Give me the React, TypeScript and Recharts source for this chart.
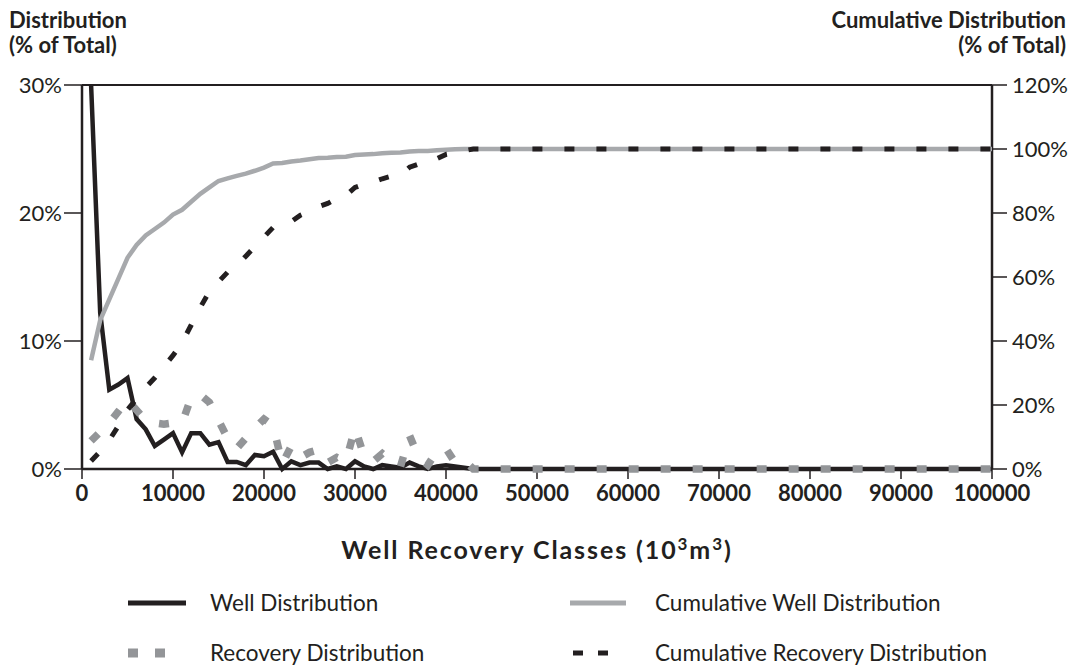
import { LineChart, Line, XAxis, YAxis, Legend, ReferenceLine } from "recharts";

const W = 1074;
const H = 670;
const INK = "#231f20";
const GRAY_LIGHT = "#a7a9ac";
const GRAY_DARK = "#939598";
const FONT = "Lato, sans-serif";

// well recovery classes (10^3 m^3)
const recoveryClasses = [
  1000, 2000, 3000, 4000, 5000, 6000, 7000, 8000, 9000, 10000,
  11000, 12000, 13000, 14000, 15000, 16000, 17000, 18000, 19000, 20000,
  21000, 22000, 23000, 24000, 25000, 26000, 27000, 28000, 29000, 30000,
  31000, 32000, 33000, 34000, 35000, 36000, 37000, 38000, 39000, 40000,
  41000, 42000, 43000, 100000,
];

// % of total (left axis); first class runs off the top of the chart
const wellDistribution = [
  30, 12.2, 6.2, 6.6, 7.1, 3.9, 3.1, 1.8, 2.3, 2.8,
  1.3, 2.8, 2.8, 1.9, 2.1, 0.55, 0.55, 0.3, 1.1, 1.0,
  1.35, 0, 0.6, 0.3, 0.5, 0.5, 0, 0.2, 0, 0.6,
  0.2, 0, 0.3, 0.2, 0.1, 0.5, 0.2, 0, 0.2, 0.3,
  0.2, 0.1, 0, 0,
];

const recoveryDistribution = [
  2.2, 2.9, 3.6, 4.5, 5.4, 4.6, 3.8, 3.6, 3.5, 3.6,
  3.6, 5.6, 5.8, 5.2, 3.8, 2.4, 1.6, 2.4, 3.2, 3.9,
  3.4, 0.4, 1.8, 0.9, 1.3, 1.5, 0.5, 0.9, 0.6, 3.2,
  1.0, 0.6, 1.2, 0.6, 0.2, 2.6, 0.9, 0.3, 1.4, 1.6,
  0.5, 0.7, 0, 0,
];

// cumulative % of total (right axis)
const cumulativeWell = [
  34, 46.5, 53, 59.5, 66, 70, 73, 75, 77, 79.5,
  81, 83.5, 86, 88, 90, 90.8, 91.6, 92.3, 93.2, 94.2,
  95.5, 95.6, 96.1, 96.4, 96.8, 97.2, 97.3, 97.5, 97.6, 98.1,
  98.3, 98.4, 98.7, 98.8, 98.9, 99.2, 99.4, 99.4, 99.6, 99.8,
  99.9, 100, 100, 100,
];

const cumulativeRecovery = [
  2.5, 5.5, 9, 13.5, 18.5, 22, 25.5, 28.5, 32, 35.5,
  39.5, 45, 50.5, 55.5, 58.5, 61.5, 63.5, 66.5, 69.5, 72.5,
  75.5, 75.8, 77.3, 79.3, 80.5, 82, 83, 84.5, 85.5, 88,
  89, 89.7, 90.7, 91.5, 91.8, 94.3, 95.3, 95.6, 97, 98.3,
  98.8, 99.5, 100, 100,
];

const xTicks = [0, 10000, 20000, 30000, 40000, 50000, 60000, 70000, 80000, 90000, 100000];
const leftTicks = [0, 10, 20, 30];
const rightTicks = [0, 20, 40, 60, 80, 100, 120];

const rows = recoveryClasses.map((x, i) => ({
  x,
  well: wellDistribution[i],
  cumWell: cumulativeWell[i],
  recovery: recoveryDistribution[i],
  cumRecovery: cumulativeRecovery[i],
}));

const legendItems = [
  { label: "Well Distribution", color: INK, width: 5, dash: undefined, len: 58, x: 128, y: 23 },
  { label: "Cumulative Well Distribution", color: GRAY_LIGHT, width: 5, dash: undefined, len: 56, x: 570, y: 23 },
  { label: "Recovery Distribution", color: GRAY_DARK, width: 9, dash: "10 17", len: 37, x: 128, y: 73 },
  { label: "Cumulative Recovery Distribution", color: INK, width: 5, dash: "10 15", len: 35, x: 573, y: 73 },
];

const renderLegend = () => (
  <div style={{ position: "relative", width: W, height: 90 }}>
    {legendItems.map((it) => (
      <div key={it.label}>
        <svg
          width={it.len}
          height={12}
          style={{ position: "absolute", left: it.x, top: it.y - 6 }}
        >
          <line
            x1={0}
            y1={6}
            x2={it.len}
            y2={6}
            stroke={it.color}
            strokeWidth={it.width}
            strokeDasharray={it.dash}
          />
        </svg>
        <span
          style={{
            position: "absolute",
            left: it.x < 300 ? 210 : 655,
            top: it.y - 14,
            fontFamily: FONT,
            fontSize: 22.5,
            lineHeight: "28px",
            color: INK,
            whiteSpace: "nowrap",
          }}
        >
          {it.label}
        </span>
      </div>
    ))}
  </div>
);

const XTitle = (props: any) => {
  const vb = props.viewBox;
  const cx = vb.x + vb.width / 2;
  return (
    <text
      x={cx}
      y={559}
      textAnchor="middle"
      fill={INK}
      fontFamily={FONT}
      fontWeight={700}
      fontSize={25}
      letterSpacing={1.9}
    >
      Well Recovery Classes (10
      <tspan dy={-9} fontSize={17}>3</tspan>
      <tspan dy={9}>m</tspan>
      <tspan dy={-9} fontSize={17}>3</tspan>
      <tspan dy={9}>)</tspan>
    </text>
  );
};

const titleStyle: React.CSSProperties = {
  position: "absolute",
  top: 7,
  fontFamily: FONT,
  fontWeight: 700,
  fontSize: 22,
  lineHeight: "25px",
  color: INK,
};

export default function App() {
  return (
    <div style={{ position: "absolute", left: 0, top: 0, width: W, height: H, background: "#fff" }}>
      <div style={{ ...titleStyle, left: 9 }}>
        Distribution
        <br />
        (% of Total)
      </div>
      <div style={{ ...titleStyle, right: 8, textAlign: "right" }}>
        Cumulative Distribution
        <br />
        (% of Total)
      </div>
      <LineChart width={W} height={H} data={rows} margin={{ top: 85, right: 0, bottom: 141, left: 0 }}>
        <XAxis
          dataKey="x"
          type="number"
          domain={[0, 100000]}
          ticks={xTicks}
          height={60}
          tickSize={10}
          tickMargin={6}
          axisLine={{ stroke: INK, strokeWidth: 2.5 }}
          tickLine={{ stroke: INK, strokeWidth: 1.5 }}
          tick={{ fill: INK, fontSize: 22, fontWeight: 700, fontFamily: FONT }}
          tickFormatter={(v: number) => String(v)}
          label={{ content: XTitle }}
        />
        <YAxis
          yAxisId="left"
          domain={[0, 30]}
          ticks={leftTicks}
          width={82}
          tickSize={18}
          tickMargin={2}
          axisLine={{ stroke: INK, strokeWidth: 2.5 }}
          tickLine={{ stroke: INK, strokeWidth: 1.5 }}
          tick={{ fill: INK, fontSize: 22, fontFamily: FONT }}
          tickFormatter={(v: number) => `${v}%`}
        />
        <YAxis
          yAxisId="right"
          orientation="right"
          domain={[0, 120]}
          ticks={rightTicks}
          width={82}
          tickSize={15}
          tickMargin={5}
          axisLine={{ stroke: INK, strokeWidth: 2.5 }}
          tickLine={{ stroke: INK, strokeWidth: 1.5 }}
          tick={{ fill: INK, fontSize: 22, fontFamily: FONT }}
          tickFormatter={(v: number) => `${v}%`}
        />
        <ReferenceLine yAxisId="left" y={30} stroke={INK} strokeWidth={2} />
        {/* lines sit above the axis lines, as in the original */}
        <Line
          yAxisId="left"
          dataKey="well"
          stroke={INK}
          strokeWidth={4.5}
          dot={false}
          activeDot={false}
          isAnimationActive={false}
          zIndex={610}
        />
        <Line
          yAxisId="right"
          dataKey="cumWell"
          stroke={GRAY_LIGHT}
          strokeWidth={4.5}
          dot={false}
          activeDot={false}
          isAnimationActive={false}
          zIndex={620}
        />
        <Line
          yAxisId="left"
          dataKey="recovery"
          stroke={GRAY_DARK}
          strokeWidth={7.5}
          strokeDasharray="10 22"
          dot={false}
          activeDot={false}
          isAnimationActive={false}
          zIndex={630}
        />
        <Line
          yAxisId="right"
          dataKey="cumRecovery"
          stroke={INK}
          strokeWidth={5}
          strokeDasharray="10 22"
          dot={false}
          activeDot={false}
          isAnimationActive={false}
          zIndex={640}
        />
        <Legend
          layout="horizontal"
          verticalAlign="middle"
          align="center"
          content={renderLegend}
          wrapperStyle={{ top: 580, left: 0, width: W, height: 90 }}
        />
      </LineChart>
    </div>
  );
}
